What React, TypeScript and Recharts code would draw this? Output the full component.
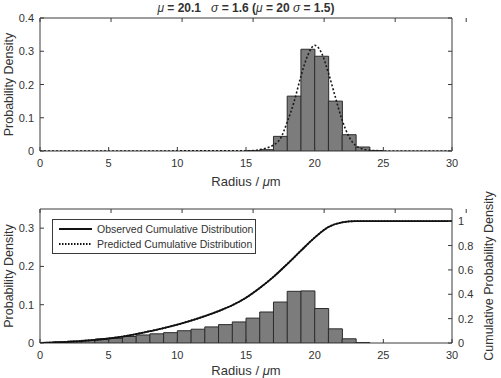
import React from "react";
import { ComposedChart, Bar, Line, XAxis, YAxis, Legend, Label, ReferenceArea } from "recharts";

// histogram bins (centres, µm)
const binCenters = [
  0.5, 1.5, 2.5, 3.5, 4.5, 5.5, 6.5, 7.5, 8.5, 9.5, 10.5, 11.5, 12.5, 13.5, 14.5,
  15.5, 16.5, 17.5, 18.5, 19.5, 20.5, 21.5, 22.5, 23.5, 24.5, 25.5, 26.5, 27.5, 28.5, 29.5,
];
// fitted sample (top panel)
const fitDensity = [
  0, 0, 0, 0, 0, 0, 0, 0, 0, 0, 0, 0, 0, 0, 0,
  0.001, 0.004, 0.044, 0.165, 0.306, 0.285, 0.15, 0.049, 0.012, 0.001, 0, 0, 0, 0, 0,
];
const fitCurveRadius = [
  0, 15, 15.5, 16, 16.5, 17, 17.5, 18, 18.5, 19, 19.5, 20, 20.5, 21, 21.5, 22, 22.5, 23, 23.5,
  24, 24.5, 25, 30,
];
const fitCurveDensity = [
  0, 0.0005, 0.001, 0.004, 0.009, 0.018, 0.037, 0.087, 0.148, 0.225, 0.288, 0.318, 0.295,
  0.235, 0.163, 0.093, 0.043, 0.016, 0.006, 0.002, 0.001, 0, 0,
];
// measured sample (bottom panel)
const sampleDensity = [
  0.001, 0.003, 0.005, 0.007, 0.01, 0.012, 0.017, 0.021, 0.024, 0.027, 0.032, 0.036, 0.042,
  0.048, 0.055, 0.065, 0.081, 0.107, 0.135, 0.136, 0.09, 0.037, 0.011, 0.001, 0, 0, 0, 0, 0, 0,
];
const cdfRadius = [
  0, 1, 2, 3, 4, 5, 6, 7, 8, 9, 10, 11, 12, 13, 14, 15, 16, 17, 18, 19, 20, 21, 22, 23, 24,
  25, 26, 27, 28, 29, 30,
];
const observedCdf = [
  0, 0.004, 0.01, 0.016, 0.026, 0.037, 0.053, 0.073, 0.097, 0.122, 0.151, 0.184, 0.221, 0.262,
  0.31, 0.372, 0.452, 0.543, 0.648, 0.758, 0.865, 0.952, 0.99, 1, 1, 1, 1, 1, 1, 1, 1,
];
const predictedCdf = [
  0, 0.004, 0.01, 0.016, 0.026, 0.037, 0.053, 0.073, 0.097, 0.122, 0.151, 0.184, 0.221, 0.262,
  0.31, 0.372, 0.452, 0.543, 0.648, 0.758, 0.865, 0.952, 0.99, 1, 1, 1, 1, 1, 1, 1, 1,
];

const radiusTicks = [0, 5, 10, 15, 20, 25, 30];
const topDensityTicks = [0, 0.1, 0.2, 0.3, 0.4];
const bottomDensityTicks = [0, 0.1, 0.2, 0.3];
const cdfTicks = [0, 0.2, 0.4, 0.6, 0.8, 1];

const fitBins = binCenters.map((r, i) => ({ r, p: fitDensity[i] }));
const fitCurve = fitCurveRadius.map((r, i) => ({ r, p: fitCurveDensity[i] }));
const sampleBins = binCenters.map((r, i) => ({ r, p: sampleDensity[i] }));
const cdfRows = cdfRadius.map((r, i) => ({ r, obs: observedCdf[i], pred: predictedCdf[i] }));

const FONT = '"Liberation Sans", Arial, Helvetica, sans-serif';
const INK = "#333";
const AXIS = "#3a3a3a";
const TICK = 4;

// MATLAB-style ticks pointing into the plot box
const BottomTick = ({ x, y, payload }: any) => (
  <g>
    <line x1={x} x2={x} y1={y} y2={y - TICK} stroke={AXIS} />
    <text x={x} y={y + 16} textAnchor="middle" fontSize={11} fill={INK} fontFamily={FONT}>
      {payload.value}
    </text>
  </g>
);
const TopTick = ({ x, y }: any) => <line x1={x} x2={x} y1={y} y2={y + TICK} stroke={AXIS} />;
const LeftTick = ({ x, y, payload }: any) => (
  <g>
    <line x1={x} x2={x + TICK} y1={y} y2={y} stroke={AXIS} />
    <text x={x - 6} y={y + 4} textAnchor="end" fontSize={11} fill={INK} fontFamily={FONT}>
      {payload.value}
    </text>
  </g>
);
const RightTick = ({ x, y, payload, showLabel }: any) => (
  <g>
    <line x1={x} x2={x - TICK} y1={y} y2={y} stroke={AXIS} />
    {showLabel && (
      <text x={x + 6} y={y + 4} textAnchor="start" fontSize={11} fill={INK} fontFamily={FONT}>
        {payload.value}
      </text>
    )}
  </g>
);

const radiusLabel = (dy: number) => ({ viewBox }: any) => (
  <text
    x={viewBox.x + viewBox.width / 2}
    y={viewBox.y + dy}
    textAnchor="middle"
    fontSize={13}
    fill={INK}
    fontFamily={FONT}
  >
    Radius / <tspan fontStyle="italic">μ</tspan>m
  </text>
);

const verticalLabel = (text: string, x: number) => ({ viewBox }: any) => {
  const cy = viewBox.y + viewBox.height / 2;
  return (
    <text
      x={x}
      y={cy}
      transform={`rotate(-90, ${x}, ${cy})`}
      textAnchor="middle"
      fontSize={12.5}
      fill={INK}
      fontFamily={FONT}
    >
      {text}
    </text>
  );
};

const titleLabel = ({ viewBox }: any) => (
  <text
    x={viewBox.x + viewBox.width / 2}
    y={12}
    textAnchor="middle"
    fontSize={12}
    fontWeight="bold"
    fill={INK}
    fontFamily={FONT}
    style={{ whiteSpace: "pre" }}
  >
    <tspan fontStyle="italic" fontWeight="normal">μ</tspan>
    {" = 20.1   "}
    <tspan fontStyle="italic" fontWeight="normal">σ</tspan>
    {" = 1.6 ("}
    <tspan fontStyle="italic" fontWeight="normal">μ</tspan>
    {" = 20 "}
    <tspan fontStyle="italic" fontWeight="normal">σ</tspan>
    {" = 1.5)"}
  </text>
);

function CdfLegend({ payload }: any) {
  const items = (payload ?? []).filter((e: any) => e.type !== "none");
  return (
    <svg width={204} height={35} style={{ display: "block" }}>
      <rect x={0.5} y={0.5} width={203} height={34} fill="#fff" stroke={AXIS} />
      {items.map((e: any, i: number) => {
        const cy = 10 + i * 15;
        return (
          <g key={i}>
            <line
              x1={7}
              x2={40}
              y1={cy}
              y2={cy}
              stroke={e.color}
              strokeWidth={1.8}
              strokeDasharray={e.payload?.strokeDasharray}
            />
            <text x={45} y={cy + 3.8} fontSize={10.5} fill={INK} fontFamily={FONT}>
              {e.value}
            </text>
          </g>
        );
      })}
    </svg>
  );
}

export default function App() {
  return (
    <div
      style={{ position: "absolute", left: 0, top: 0, width: 501, height: 378, background: "#fff" }}
    >
      <div style={{ position: "absolute", left: 0, top: 0 }}>
        <ComposedChart
          width={501}
          height={190}
          data={fitBins}
          margin={{ top: 17, right: 0, bottom: 0, left: 0 }}
          barCategoryGap={0}
          barGap={0}
        >
          <XAxis xAxisId="bin" dataKey="r" type="number" domain={[0, 30]} height={0} hide />
          <XAxis
            xAxisId="r"
            dataKey="r"
            type="number"
            domain={[0, 30]}
            ticks={radiusTicks}
            interval={0}
            height={39}
            tickSize={0}
            tickMargin={0}
            axisLine={false}
            tick={<BottomTick />}
            allowDataOverflow
          >
            <Label content={radiusLabel(34.5)} />
          </XAxis>
          <XAxis
            xAxisId="top"
            orientation="top"
            type="number"
            domain={[0, 30]}
            ticks={radiusTicks}
            interval={0}
            height={1}
            tickSize={0}
            tickMargin={0}
            axisLine={false}
            tick={<TopTick />}
            allowDataOverflow
          >
            <Label content={titleLabel} />
          </XAxis>
          <YAxis
            yAxisId="l"
            type="number"
            domain={[0, 0.4]}
            ticks={topDensityTicks}
            interval={0}
            width={40}
            tickSize={0}
            tickMargin={0}
            axisLine={false}
            tick={<LeftTick />}
            allowDataOverflow
          >
            <Label content={verticalLabel("Probability Density", 12.5)} />
          </YAxis>
          <YAxis
            yAxisId="rr"
            orientation="right"
            type="number"
            domain={[0, 0.4]}
            ticks={topDensityTicks}
            interval={0}
            width={49}
            tickSize={0}
            tickMargin={0}
            axisLine={false}
            tick={<RightTick showLabel={false} />}
            allowDataOverflow
          />
          {/* plot frame */}
          <ReferenceArea
            xAxisId="r"
            yAxisId="l"
            x1={0}
            x2={30}
            y1={0}
            y2={0.4}
            fill="none"
            stroke={AXIS}
            strokeWidth={1}
          />
          <Bar
            xAxisId="bin"
            yAxisId="l"
            dataKey="p"
            fill="#7c7c7c"
            stroke="#2b2b2b"
            strokeWidth={1}
            legendType="none"
            isAnimationActive={false}
          />
          <Line
            xAxisId="r"
            yAxisId="l"
            data={fitCurve}
            dataKey="p"
            type="monotone"
            stroke="#1a1a1a"
            strokeWidth={1.6}
            strokeDasharray="2 2"
            dot={false}
            activeDot={false}
            isAnimationActive={false}
          />
        </ComposedChart>
      </div>

      <div style={{ position: "absolute", left: 0, top: 190 }}>
        <ComposedChart
          width={501}
          height={188}
          data={sampleBins}
          margin={{ top: 18, right: 0, bottom: 0, left: 0 }}
          barCategoryGap={0}
          barGap={0}
        >
          <XAxis xAxisId="bin" dataKey="r" type="number" domain={[0, 30]} height={0} hide />
          <XAxis
            xAxisId="r"
            dataKey="r"
            type="number"
            domain={[0, 30]}
            ticks={radiusTicks}
            interval={0}
            height={35}
            tickSize={0}
            tickMargin={0}
            axisLine={false}
            tick={<BottomTick />}
            allowDataOverflow
          >
            <Label content={radiusLabel(32)} />
          </XAxis>
          <XAxis
            xAxisId="top"
            orientation="top"
            type="number"
            domain={[0, 30]}
            ticks={radiusTicks}
            interval={0}
            height={1}
            tickSize={0}
            tickMargin={0}
            axisLine={false}
            tick={<TopTick />}
            allowDataOverflow
          />
          <YAxis
            yAxisId="l"
            type="number"
            domain={[0, 0.35]}
            ticks={bottomDensityTicks}
            interval={0}
            width={40}
            tickSize={0}
            tickMargin={0}
            axisLine={false}
            tick={<LeftTick />}
            allowDataOverflow
          >
            <Label content={verticalLabel("Probability Density", 12.5)} />
          </YAxis>
          <YAxis
            yAxisId="cdf"
            orientation="right"
            type="number"
            domain={[0, 1.1]}
            ticks={cdfTicks}
            interval={0}
            width={49}
            tickSize={0}
            tickMargin={0}
            axisLine={false}
            tick={<RightTick showLabel />}
            allowDataOverflow
          >
            <Label content={verticalLabel("Cumulative Probability Density", 493)} />
          </YAxis>
          {/* plot frame */}
          <ReferenceArea
            xAxisId="r"
            yAxisId="l"
            x1={0}
            x2={30}
            y1={0}
            y2={0.35}
            fill="none"
            stroke={AXIS}
            strokeWidth={1}
          />
          <Bar
            xAxisId="bin"
            yAxisId="l"
            dataKey="p"
            fill="#7c7c7c"
            stroke="#2b2b2b"
            strokeWidth={1}
            legendType="none"
            isAnimationActive={false}
          />
          <Line
            xAxisId="r"
            yAxisId="cdf"
            data={cdfRows}
            dataKey="obs"
            name="Observed Cumulative Distribution"
            type="monotone"
            stroke="#111"
            strokeWidth={1.8}
            dot={false}
            activeDot={false}
            isAnimationActive={false}
          />
          <Line
            xAxisId="r"
            yAxisId="cdf"
            data={cdfRows}
            dataKey="pred"
            name="Predicted Cumulative Distribution"
            type="monotone"
            stroke="#111"
            strokeWidth={1.8}
            strokeDasharray="1.5 1.5"
            dot={false}
            activeDot={false}
            isAnimationActive={false}
          />
          <Legend
            layout="horizontal"
            verticalAlign="middle"
            align="center"
            content={<CdfLegend />}
            wrapperStyle={{ left: 52, top: 29, width: 204, height: 35 }}
          />
        </ComposedChart>
      </div>
    </div>
  );
}
